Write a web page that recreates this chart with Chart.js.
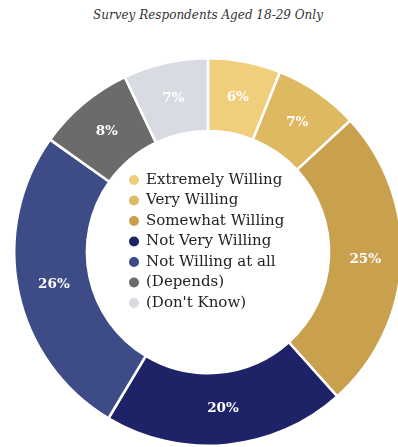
<!DOCTYPE html>
<html>
<head>
<meta charset="utf-8">
<script src="https://cdn.jsdelivr.net/npm/chart.js@4"></script>
<style>
  html, body { margin: 0; padding: 0; background: #fff; overflow: hidden; width: 398px; height: 447px; }
  #title { position: absolute; top: 8px; left: 0; width: 416px; text-align: center;
           font-family: "DejaVu Serif", serif; font-style: italic; font-size: 12px; color: #333; }
  #wrap { position: absolute; left: 0; top: 57px; width: 416px; height: 390px; }
</style>
</head>
<body>
<div id="title">Survey Respondents Aged 18-29 Only</div>
<div id="wrap"><canvas id="myChart"></canvas></div>
<script>
// answer categories, clockwise from the top
const labels = ["Extremely Willing", "Very Willing", "Somewhat Willing", "Not Very Willing",
  "Not Willing at all", "(Depends)", "(Don't Know)"];
// share of respondents in %
const values = [6, 7, 25, 20, 26, 8, 7];
const colors = ["#F1CE7B", "#DDB962", "#C9A14E", "#1E2367", "#3D4B86", "#6B6B6B", "#D8DBE2"];

// percent labels on the ring + legend in the hole
const ringText = {
  id: "ringText",
  afterDraw(chart) {
    const ctx = chart.ctx;
    const meta = chart.getDatasetMeta(0);
    ctx.save();
    ctx.textAlign = "center";
    ctx.textBaseline = "middle";
    ctx.fillStyle = "#fff";
    ctx.font = "bold 13.5px 'DejaVu Serif', serif";
    meta.data.forEach((arc, i) => {
      const p = arc.tooltipPosition();
      ctx.fillText(values[i] + "%", p.x, p.y);
    });

    const cx = meta.data[0].x, cy = meta.data[0].y;
    ctx.textAlign = "left";
    ctx.font = "15px 'DejaVu Serif', serif";
    labels.forEach((lab, i) => {
      const y = cy - 72 + i * 20.5;
      ctx.fillStyle = colors[i];
      ctx.beginPath();
      ctx.arc(cx - 74, y, 5, 0, Math.PI * 2);
      ctx.fill();
      ctx.fillStyle = "#222";
      ctx.fillText(lab, cx - 62, y);
    });
    ctx.restore();
  }
};

const ctx = document.getElementById("myChart");
const myChart = new Chart(ctx, {
  type: "doughnut",
  data: {
    labels: labels,
    datasets: [
      {
        data: values,
        backgroundColor: colors,
        borderColor: "#fff",
        borderWidth: 2.5
      }
    ]
  },
  options: {
    responsive: true,
    maintainAspectRatio: false,
    animation: false,
    cutout: "62.5%",
    layout: { padding: 0 },
    plugins: {
      legend: { display: false },
      tooltip: { enabled: false }
    }
  },
  plugins: [ringText]
});
</script>
</body>
</html>
